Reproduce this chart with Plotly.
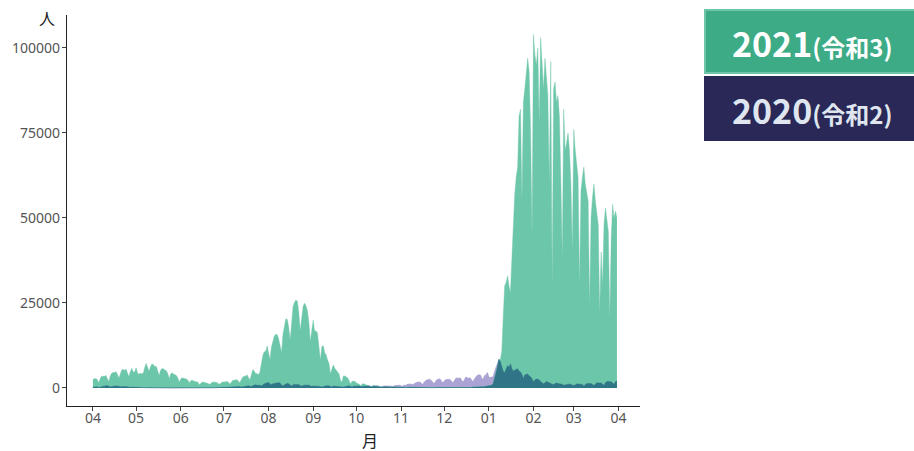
import pandas as pd
import numpy as np
import plotly.graph_objects as go

# ---------------- data (daily new cases, fiscal year Apr 1 -> Mar 31) ----------------
fy2021_apr = [2599, 2772, 2756, 2467, 1564, 2650, 3446, 3451, 3454, 3698, 2774, 1907, 3457, 4310, 4573,
              4532, 4802, 4093, 2858, 4343, 5291, 5504, 5117, 5597, 4606, 3318, 4880, 5789, 4671, 4680]
fy2021_may = [5979, 4420, 4072, 4309, 4155, 4384, 6047, 7244, 6043, 4903, 6221, 7057, 6879, 6269, 6420,
              5238, 3677, 5228, 5727, 5600, 5269, 5038, 4225, 2770, 4113, 4463, 4087, 3878, 3644, 2891, 1764]
fy2021_jun = [2642, 2984, 2842, 2716, 2676, 2242, 1463, 2179, 2276, 2042, 1939, 1898, 1669, 986, 1452,
              1777, 1705, 1599, 1541, 1312, 1003, 1418, 1697, 1779, 1744, 1627, 1316, 1084, 1452, 1768]
fy2021_jul = [1724, 1852, 1919, 1728, 1181, 1643, 2179, 2240, 2269, 2463, 2034, 1505, 2386, 3191, 3418,
              3445, 3874, 3098, 2328, 3759, 5395, 5014, 4220, 4225, 3890, 4686, 7629, 9576, 10687, 10743, 12340]
fy2021_aug = [10167, 8373, 12017, 14208, 15263, 15750, 15740, 14471, 12067, 10421, 15806, 18889, 20365,
              20151, 17889, 14130, 19947, 23909, 25146, 25876, 25492, 22270, 16834, 21532, 24055, 24957,
              24155, 22748, 19296, 13638, 17759]
fy2021_sep = [20030, 16770, 16752, 16069, 12913, 8228, 12200, 12392, 10377, 9736, 8212, 7207, 4167, 5836,
              6800, 5773, 5099, 4711, 4104, 2220, 1769, 3560, 3527, 3240, 2933, 2127, 1138, 1977, 2090, 1989]
fy2021_oct = [1443, 1308, 1128, 619, 1139, 1250, 1068, 994, 844, 598, 370, 620, 744, 621, 607, 504, 428,
              230, 388, 386, 363, 344, 303, 232, 154, 241, 319, 285, 237, 271, 161]
fy2021_nov = [86, 225, 218, 136, 160, 214, 162, 106, 153, 193, 204, 186, 207, 150, 78, 159, 134, 142, 147,
              137, 131, 50, 74, 77, 130, 114, 108, 92, 76, 95]
fy2021_dec = [132, 116, 124, 126, 117, 83, 111, 162, 152, 124, 126, 81, 105, 174, 178, 192, 176, 186, 142,
              119, 253, 257, 284, 305, 287, 236, 205, 380, 386, 502, 558]
fy2021_jan = [456, 553, 782, 1265, 2638, 4475, 6214, 8480, 8249, 10800, 21000, 30000, 31000, 33000, 30000,
              28000, 38000, 50000, 57000, 62000, 65000, 80000, 82000, 55000, 84000, 88000, 92000, 97000,
              93000, 76000, 45000]
fy2021_feb = [104000, 98000, 95000, 100000, 78000, 103000, 96000, 88000, 97000, 92000, 86000, 60000, 96000,
              30000, 88000, 90000, 84000, 86000, 80000, 62000, 38000, 82000, 70000, 72000, 75000, 70000,
              60000, 40000]
fy2021_mar = [76000, 70000, 66000, 62000, 30000, 58000, 62000, 65000, 60000, 58000, 55000, 24000, 50000,
              56000, 60000, 55000, 52000, 48000, 22000, 40000, 30000, 48000, 53000, 50000, 46000, 20000,
              44000, 54000, 50000, 52000, 50000]

fy2020_apr = [230, 235, 352, 367, 143, 252, 351, 511, 576, 708, 743, 507, 284, 457, 549, 584, 576, 568, 375,
              368, 378, 439, 440, 447, 345, 203, 188, 252, 218, 160]
fy2020_may = [192, 292, 202, 89, 123, 87, 98, 82, 110, 56, 53, 83, 54, 68, 81, 26, 33, 28, 36, 30, 41, 28,
              24, 20, 21, 35, 34, 29, 33, 35, 36]
fy2020_jun = [34, 36, 50, 43, 46, 37, 35, 36, 38, 42, 41, 48, 53, 52, 72, 44, 41, 68, 58, 81, 56, 43, 38,
              90, 77, 110, 94, 116, 90, 122]
fy2020_jul = [133, 194, 250, 274, 208, 158, 212, 206, 355, 430, 385, 405, 259, 336, 455, 622, 586, 663, 510,
              421, 631, 795, 981, 778, 841, 813, 596, 981, 1264, 1298, 1580]
fy2020_aug = [1536, 1331, 957, 1240, 1359, 1489, 1595, 1567, 1434, 813, 690, 966, 1171, 1358, 1234, 1018,
              587, 912, 1075, 940, 1036, 1012, 732, 492, 737, 878, 750, 893, 791, 562, 429]
fy2020_sep = [608, 593, 585, 605, 513, 411, 287, 498, 508, 640, 658, 620, 433, 270, 559, 501, 579, 597, 494,
              346, 402, 260, 394, 480, 523, 643, 440, 305, 500, 594]
fy2020_oct = [566, 568, 591, 419, 347, 496, 541, 612, 612, 603, 390, 275, 553, 474, 705, 648, 568, 426, 317,
              602, 616, 598, 728, 683, 551, 431, 650, 728, 759, 869, 805]
fy2020_nov = [613, 476, 844, 713, 1049, 1117, 1205, 1165, 958, 1279, 1549, 1661, 1704, 1737, 1438, 955,
              1697, 2201, 2386, 2427, 2596, 2168, 1519, 1226, 1945, 2499, 2509, 2684, 2059, 1430]
fy2020_dec = [2028, 2433, 2507, 2434, 2505, 2048, 1519, 2033, 2810, 2971, 2790, 3041, 2382, 1676, 2381,
              3211, 3018, 2831, 2992, 2489, 1756, 2633, 3255, 3740, 3811, 3880, 2946, 2387, 3599, 3852, 4520]
fy2020_jan = [3254, 3048, 3151, 3308, 4871, 5954, 7571, 8400, 7791, 6094, 4925, 4545, 5869, 6604, 6039,
              7133, 5759, 4925, 5316, 5540, 5638, 5000, 4690, 3985, 2764, 3853, 3960, 4134, 3529, 3335, 2673]
fy2020_feb = [1792, 2324, 2631, 2576, 2368, 1876, 1560, 1213, 1570, 1924, 1731, 1457, 1358, 1103, 1038,
              1305, 1526, 1317, 1310, 1230, 1076, 821, 901, 1069, 1065, 1162, 990, 803]
fy2020_mar = [740, 873, 1222, 1147, 1152, 1111, 1059, 600, 1128, 1306, 1285, 1324, 1305, 989, 745, 1118,
              1524, 1468, 1466, 1467, 1119, 814, 1513, 1912, 1928, 1938, 1832, 1448, 1086, 1884, 2084]

cases_2021 = (fy2021_apr + fy2021_may + fy2021_jun + fy2021_jul + fy2021_aug + fy2021_sep + fy2021_oct +
              fy2021_nov + fy2021_dec + fy2021_jan + fy2021_feb + fy2021_mar)
cases_2020 = (fy2020_apr + fy2020_may + fy2020_jun + fy2020_jul + fy2020_aug + fy2020_sep + fy2020_oct +
              fy2020_nov + fy2020_dec + fy2020_jan + fy2020_feb + fy2020_mar)

dates = pd.date_range("2021-04-01", periods=len(cases_2021), freq="D")

month_ticks = pd.date_range("2021-04-01", "2022-04-01", freq="MS")
month_labels = ["04", "05", "06", "07", "08", "09", "10", "11", "12", "01", "02", "03", "04"]
y_ticks = [0, 25000, 50000, 75000, 100000]
y_labels = ["0", "25000", "50000", "75000", "100000"]
legend_labels = ["2021", "(令和3)", "2020", "(令和2)"]
y_unit = "人"
x_unit = "月"

# ---------------- figure ----------------
W, H = 914, 451
L, R, T, B = 67, 640, 15, 406


def px_x(p):
    return (p - L) / (R - L)


def px_y(p):
    return (B - p) / (B - T)


overlap = np.minimum(np.array(cases_2020), np.array(cases_2021))

fig = go.Figure()
fig.add_trace(go.Scatter(x=dates, y=cases_2020, mode="lines", fill="tozeroy",
                         line=dict(color="#9c94cc", width=0.6), fillcolor="#aaa3d3",
                         hoverinfo="skip", showlegend=False))
fig.add_trace(go.Scatter(x=dates, y=cases_2021, mode="lines", fill="tozeroy",
                         line=dict(color="#6cc6aa", width=0.4), fillcolor="#6cc6aa",
                         hoverinfo="skip", showlegend=False))
fig.add_trace(go.Scatter(x=dates, y=overlap, mode="lines", fill="tozeroy",
                         line=dict(color="#2d6f84", width=0.4), fillcolor="#2f7487",
                         hoverinfo="skip", showlegend=False))

tick_font = dict(family="Noto Sans, Liberation Sans, sans-serif", size=14, color="#555555")

fig.update_layout(
    width=W, height=H,
    margin=dict(l=L, r=W - R, t=T, b=H - B, pad=0),
    paper_bgcolor="#ffffff", plot_bgcolor="#ffffff",
    xaxis=dict(range=["2021-03-14", "2022-04-16"], tickvals=month_ticks, ticktext=month_labels,
               showgrid=False, zeroline=False, showline=True, linecolor="#222222", linewidth=1.3,
               ticks="outside", ticklen=4, tickcolor="#444444", tickwidth=1, tickfont=tick_font,
               automargin=False, ticklabelstandoff=-5),
    yaxis=dict(range=[-5300, 109700], tickvals=y_ticks, ticktext=y_labels,
               showgrid=False, zeroline=False, showline=True, linecolor="#222222", linewidth=1.3,
               ticks="outside", ticklen=4, tickcolor="#444444", tickwidth=1, tickfont=tick_font,
               automargin=False, ticklabelstandoff=-1),
    font=dict(family="Noto Sans CJK JP, Noto Sans, sans-serif"),
)

# axis unit labels
fig.add_annotation(x=px_x(47), y=px_y(18), xref="paper", yref="paper", text=y_unit, showarrow=False,
                   font=dict(family="Noto Sans CJK JP", size=16, color="#222222"),
                   xanchor="center", yanchor="middle")
fig.add_annotation(x=px_x(370), y=px_y(440), xref="paper", yref="paper", text=x_unit, showarrow=False,
                   font=dict(family="Noto Sans CJK JP", size=16, color="#222222"),
                   xanchor="center", yanchor="middle")

# legend boxes
boxes = [
    (10, 73, "#3cab86", "#6fc5a7", legend_labels[0], legend_labels[1], "#ffffff"),
    (77, 140, "#2a2857", "#2a2857", legend_labels[2], legend_labels[3], "#dfe6ef"),
]
for y0, y1, fc, lc, big, small, tc in boxes:
    fig.add_shape(type="rect", xref="paper", yref="paper",
                  x0=px_x(705), x1=px_x(916), y0=px_y(y1), y1=px_y(y0),
                  fillcolor=fc, line=dict(color=lc, width=2), layer="above")
    fig.add_annotation(x=px_x(812), y=px_y((y0 + y1) / 2 + 1), xref="paper", yref="paper",
                       text=f"<b>{big}</b><b><span style='font-size:24px'>{small}</span></b>",
                       showarrow=False, xanchor="center", yanchor="middle",
                       font=dict(family="Noto Sans CJK JP", size=34, color=tc))

fig.write_html("out.html", config={"displayModeBar": False},
               post_script="document.body.style.margin='0';document.body.style.padding='0';")
